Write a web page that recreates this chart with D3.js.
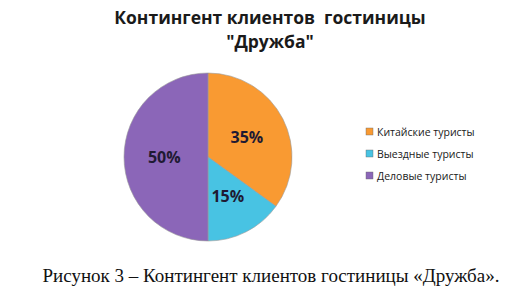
<!DOCTYPE html>
<html><head><meta charset="utf-8">
<script src="https://cdn.jsdelivr.net/npm/d3@7"></script>
<style>body{margin:0;background:#fff}</style>
</head><body>
<svg id="c" width="530" height="293"></svg>
<script>
const categories = ["Китайские туристы", "Выездные туристы", "Деловые туристы"];
const values = [35, 15, 50];
const labels = ["35%", "15%", "50%"];
const colors = ["#F99A32", "#48C3E3", "#8B66B8"];
const titleLines = ["Контингент клиентов\u00a0 гостиницы", "\"Дружба\""];
const caption = "Рисунок 3 – Контингент клиентов гостиницы «Дружба».";

const svg = d3.select("#c");
const cx = 208, cy = 157, r = 84;

svg.append("g").attr("font-family", "'Open Sans', sans-serif").attr("font-weight", "bold")
  .attr("font-size", 17.5).attr("text-anchor", "middle").attr("fill", "#1a1a1a")
  .selectAll("text").data(titleLines).join("text")
  .attr("x", 270).attr("y", (d, i) => 24 + i * 24).text(d => d);

const pie = d3.pie().sort(null).value(d => d)(values);
const arc = d3.arc().innerRadius(0).outerRadius(r);
const g = svg.append("g").attr("transform", `translate(${cx},${cy})`);
g.selectAll("path").data(pie).join("path")
  .attr("d", arc).attr("fill", (d, i) => colors[i])
  .attr("stroke", "#9a9a9a").attr("stroke-width", 0.6);

const labelArc = d3.arc().innerRadius(r * 0.52).outerRadius(r * 0.52);
g.selectAll("text").data(pie).join("text")
  .attr("transform", d => `translate(${labelArc.centroid(d)})`)
  .attr("dy", "0.35em").attr("text-anchor", "middle")
  .attr("font-family", "'Open Sans', sans-serif").attr("font-weight", "bold")
  .attr("font-size", 16).attr("fill", "#1f1a33")
  .text((d, i) => labels[i]);

const leg = svg.append("g").attr("font-family", "'Open Sans', sans-serif").attr("font-size", 10.5).attr("fill", "#1a1a1a");
const items = leg.selectAll("g").data(categories).join("g")
  .attr("transform", (d, i) => `translate(366,${132 + i * 22})`);
items.append("rect").attr("x", 0).attr("y", -4).attr("width", 7).attr("height", 7)
  .attr("fill", (d, i) => colors[i]).attr("stroke", "#666").attr("stroke-width", 0.4);
items.append("text").attr("x", 11).attr("dy", "0.35em").text(d => d);

svg.append("text").attr("x", 271).attr("y", 282).attr("text-anchor", "middle")
  .attr("font-family", "'Liberation Serif', serif").attr("font-size", 19).attr("fill", "#111")
  .text(caption);
</script>
</body></html>
